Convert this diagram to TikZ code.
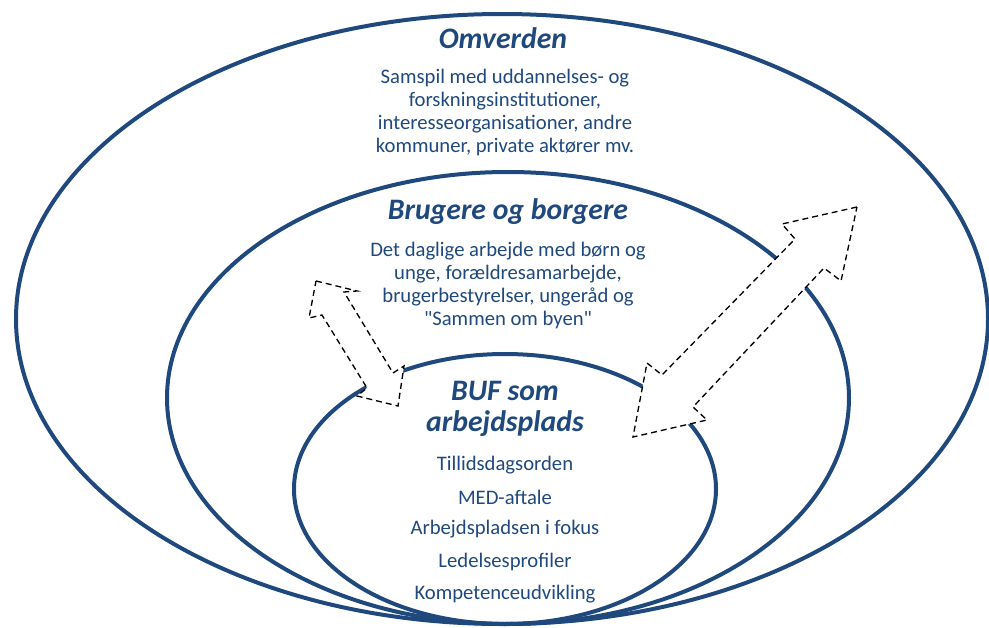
\documentclass[tikz,border=0pt]{standalone}
\usepackage{fontspec}
\setmainfont{Carlito}
\usetikzlibrary{positioning}
\definecolor{bufblue}{RGB}{31,73,125}

\tikzset{
  ring/.style={draw=bufblue, line width=3pt},
  ringtitle/.style={text=bufblue, align=center, font=\fontsize{22.3}{23.25}\selectfont\bfseries\itshape},
  ringtext/.style={text=bufblue, align=center, font=\fontsize{15.5}{17.25}\selectfont},
  flowarrow/.style={draw=black, fill=white, line width=1pt, dash pattern=on 4.5pt off 3pt},
}

\begin{document}
\begin{tikzpicture}[x=0.75pt,y=-0.75pt]
    \useasboundingbox (0,0) rectangle (989,628);
    % ringe
    \draw[ring] (502,319) ellipse [x radius=364.5pt, y radius=228.75pt];
    \draw[ring] (508,398) ellipse [x radius=255.75pt, y radius=169.5pt];
    \draw[ring] (505,489) ellipse [x radius=158.25pt, y radius=101.25pt];
    % pile
    \draw[flowarrow] (316,281) -- (357,291) -- (344,292) -- (393,373) -- (404,366)
        -- (398,406) -- (357,396) -- (367,388) -- (322,315) -- (309,318) -- cycle;
    \draw[flowarrow] (857,207) -- (782,224) -- (795,239) -- (662,375) -- (647,363)
        -- (633,437) -- (707,420) -- (693,407) -- (824,268) -- (841,281) -- cycle;
    % tekster
    \node[ringtitle] (omv) at (503,38) {Omverden};
    \node[ringtext] (omvtxt) at (505,112) {Samspil med uddannelses- og\\forskningsinstitutioner,\\interesseorganisationer, andre\\kommuner, private aktører mv.};
    \node[ringtitle] (brug) at (508,212) {Brugere og borgere};
    \node[ringtext] (brugtxt) at (508,285) {Det daglige arbejde med børn og\\unge, forældresamarbejde,\\brugerbestyrelser, ungeråd og\\\textquotedbl Sammen om byen\textquotedbl};
    \node[ringtitle] (buf) at (505,409) {BUF som\\arbejdsplads};
    \foreach \t [count=\i] in {Tillidsdagsorden, MED-aftale, Arbejdspladsen i fokus, Ledelsesprofiler, Kompetenceudvikling} {
        \node[ringtext] (item\i) at (505,{465+32.2*(\i-1)}) {\t};
    }
\end{tikzpicture}
\end{document}
